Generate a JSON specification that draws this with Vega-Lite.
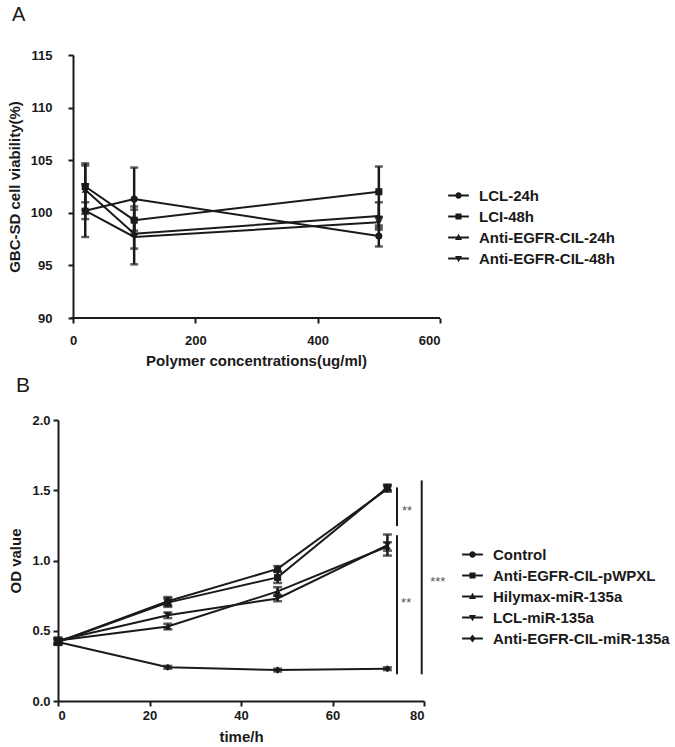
{
  "$schema": "https://vega.github.io/schema/vega-lite/v6.json",
  "background": "white",
  "padding": {"left": 7, "top": 5, "right": 0, "bottom": 0},
  "autosize": {"type": "pad"},
  "config": {
    "view": {"stroke": null},
    "font": "Liberation Sans",
    "axis": {
      "grid": false,
      "domainColor": "#1a1a1a",
      "domainWidth": 2,
      "tickColor": "#1a1a1a",
      "tickWidth": 2,
      "tickSize": 5,
      "labelFont": "Liberation Sans",
      "labelFontWeight": "bold",
      "labelFontSize": 13,
      "labelColor": "#1a1a1a",
      "titleFont": "Liberation Sans",
      "titleFontWeight": "bold",
      "titleFontSize": 15,
      "titleColor": "#1a1a1a"
    },
    "legend": {
      "labelFont": "Liberation Sans",
      "labelFontWeight": "bold",
      "labelFontSize": 15,
      "labelColor": "#1a1a1a",
      "labelLimit": 400,
      "symbolSize": 430,
      "symbolOpacity": 1,
      "labelOffset": 10,
      "padding": 0
    }
  },
  "datasets": {
    "viability": [
      {"group": "LCL-24h", "conc": 20, "mean": 100.2, "lo": 97.7, "hi": 102.7},
      {"group": "LCL-24h", "conc": 100, "mean": 101.3, "lo": 98.3, "hi": 104.3},
      {"group": "LCL-24h", "conc": 500, "mean": 97.8, "lo": 96.8, "hi": 98.8},
      {"group": "LCI-48h", "conc": 20, "mean": 102.5, "lo": 100.3, "hi": 104.7},
      {"group": "LCI-48h", "conc": 100, "mean": 99.3, "lo": 98.0, "hi": 100.6},
      {"group": "LCI-48h", "conc": 500, "mean": 102.0, "lo": 99.6, "hi": 104.4},
      {"group": "Anti-EGFR-CIL-24h", "conc": 20, "mean": 102.2, "lo": 99.9, "hi": 104.5},
      {"group": "Anti-EGFR-CIL-24h", "conc": 100, "mean": 98.0, "lo": 96.6, "hi": 99.4},
      {"group": "Anti-EGFR-CIL-24h", "conc": 500, "mean": 99.7, "lo": 98.4, "hi": 101.0},
      {"group": "Anti-EGFR-CIL-48h", "conc": 20, "mean": 100.2, "lo": 99.4, "hi": 101.0},
      {"group": "Anti-EGFR-CIL-48h", "conc": 100, "mean": 97.7, "lo": 95.1, "hi": 100.3},
      {"group": "Anti-EGFR-CIL-48h", "conc": 500, "mean": 99.1, "lo": 98.6, "hi": 99.6}
    ],
    "od": [
      {"group": "Control", "time": 0, "mean": 0.42, "lo": 0.40, "hi": 0.44},
      {"group": "Control", "time": 24, "mean": 0.71, "lo": 0.68, "hi": 0.74},
      {"group": "Control", "time": 48, "mean": 0.94, "lo": 0.92, "hi": 0.96},
      {"group": "Control", "time": 72, "mean": 1.51, "lo": 1.49, "hi": 1.53},
      {"group": "Anti-EGFR-CIL-pWPXL", "time": 0, "mean": 0.42, "lo": 0.40, "hi": 0.44},
      {"group": "Anti-EGFR-CIL-pWPXL", "time": 24, "mean": 0.70, "lo": 0.67, "hi": 0.73},
      {"group": "Anti-EGFR-CIL-pWPXL", "time": 48, "mean": 0.88, "lo": 0.84, "hi": 0.92},
      {"group": "Anti-EGFR-CIL-pWPXL", "time": 72, "mean": 1.52, "lo": 1.50, "hi": 1.54},
      {"group": "Hilymax-miR-135a", "time": 0, "mean": 0.43, "lo": 0.41, "hi": 0.45},
      {"group": "Hilymax-miR-135a", "time": 24, "mean": 0.53, "lo": 0.51, "hi": 0.55},
      {"group": "Hilymax-miR-135a", "time": 48, "mean": 0.78, "lo": 0.75, "hi": 0.81},
      {"group": "Hilymax-miR-135a", "time": 72, "mean": 1.10, "lo": 1.07, "hi": 1.13},
      {"group": "LCL-miR-135a", "time": 0, "mean": 0.43, "lo": 0.41, "hi": 0.45},
      {"group": "LCL-miR-135a", "time": 24, "mean": 0.61, "lo": 0.59, "hi": 0.63},
      {"group": "LCL-miR-135a", "time": 48, "mean": 0.73, "lo": 0.71, "hi": 0.75},
      {"group": "LCL-miR-135a", "time": 72, "mean": 1.11, "lo": 1.035, "hi": 1.185},
      {"group": "Anti-EGFR-CIL-miR-135a", "time": 0, "mean": 0.42, "lo": 0.41, "hi": 0.43},
      {"group": "Anti-EGFR-CIL-miR-135a", "time": 24, "mean": 0.24, "lo": 0.23, "hi": 0.25},
      {"group": "Anti-EGFR-CIL-miR-135a", "time": 48, "mean": 0.22, "lo": 0.21, "hi": 0.23},
      {"group": "Anti-EGFR-CIL-miR-135a", "time": 72, "mean": 0.23, "lo": 0.22, "hi": 0.24}
    ],
    "sigLines": [
      {"x": 74.1, "top": 1.52, "bottom": 1.245},
      {"x": 74.1, "top": 1.18, "bottom": 0.19},
      {"x": 79.5, "top": 1.57, "bottom": 0.19}
    ],
    "sigText": [
      {"x": 76.3, "y": 1.375, "label": "**"},
      {"x": 76.1, "y": 0.72, "label": "**"},
      {"x": 83.0, "y": 0.87, "label": "***"}
    ]
  },
  "spacing": 7,
  "resolve": {"scale": {"shape": "independent", "x": "independent", "y": "independent"}, "legend": {"shape": "independent"}},
  "vconcat": [
    {
      "width": 382,
      "height": 263,
      "title": {"text": "A", "anchor": "start", "frame": "group", "offset": 24, "dx": -46, "font": "Liberation Sans", "fontWeight": "normal", "fontSize": 20, "color": "#1a1a1a"},
      "data": {"name": "viability"},
      "encoding": {
        "x": {"field": "conc", "type": "quantitative", "scale": {"domain": [-24.52, 600], "nice": false, "zero": false}, "axis": {"values": [0, 200, 400, 600], "domain": false, "title": "Polymer concentrations(ug/ml)", "labelPadding": 11, "titlePadding": 6, "titleX": 198}},
        "y": {"field": "mean", "type": "quantitative", "scale": {"domain": [90, 115], "nice": false, "zero": false}, "axis": {"values": [90, 95, 100, 105, 110, 115], "offset": -15, "title": "GBC-SD cell viability(%)", "labelPadding": 16, "titlePadding": 8}}
      },
      "resolve": {"scale": {"shape": "independent"}, "legend": {"shape": "independent"}},
      "layer": [
        {"mark": {"type": "rule", "color": "#1a1a1a", "strokeWidth": 2}, "encoding": {"x": {"datum": -3}, "x2": {"datum": 600}, "y": {"datum": 90}}},
        {"mark": {"type": "line", "color": "#1a1a1a", "strokeWidth": 2}, "encoding": {"detail": {"field": "group"}}},
        {"mark": {"type": "errorbar", "color": "#1a1a1a", "thickness": 2.5, "ticks": {"size": 8, "thickness": 2.5, "color": "#1a1a1a"}},
         "encoding": {"y": {"field": "lo", "type": "quantitative"}, "y2": {"field": "hi"}, "detail": {"field": "group"}}},
        {"mark": {"type": "point", "filled": true, "color": "#1a1a1a", "opacity": 1, "size": 50},
         "encoding": {"shape": {"field": "group", "type": "nominal", "legend": null,
            "scale": {"domain": ["LCL-24h", "LCI-48h", "Anti-EGFR-CIL-24h", "Anti-EGFR-CIL-48h"], "range": ["circle", "square", "triangle-up", "triangle-down"]}}}},
        {"transform": [{"filter": "false"}],
         "mark": {"type": "point", "filled": true, "color": "#1a1a1a", "opacity": 1},
         "encoding": {"shape": {"field": "group", "type": "nominal",
            "scale": {"domain": ["LCL-24h", "LCI-48h", "Anti-EGFR-CIL-24h", "Anti-EGFR-CIL-48h"],
                      "range": ["M0,-1M0,1M-1,-0.086H1V0.086H-1ZM0.314,0A0.314,0.314 0 1,1 -0.314,0A0.314,0.314 0 1,1 0.314,0Z", "M0,-1M0,1M-1,-0.086H1V0.086H-1ZM-0.293,-0.293H0.293V0.293H-0.293Z", "M0,-1M0,1M-1,-0.086H1V0.086H-1ZM0,-0.36L0.335,0.24H-0.335Z", "M0,-1M0,1M-1,-0.086H1V0.086H-1ZM0,0.36L-0.335,-0.24H0.335Z"]},
            "legend": {"title": null, "orient": "none", "legendX": 390, "legendY": 130, "rowPadding": 0, "symbolFillColor": "#1a1a1a", "symbolStrokeWidth": 0, "symbolOpacity": 1}}}}
      ]
    },
    {
      "width": 366,
      "height": 281,
      "title": {"text": "B", "anchor": "start", "frame": "group", "offset": 18, "dx": -42, "font": "Liberation Sans", "fontWeight": "normal", "fontSize": 21, "color": "#1a1a1a"},
      "encoding": {
        "x": {"field": "time", "type": "quantitative", "scale": {"domain": [0, 80], "nice": false}, "axis": {"values": [0, 20, 40, 60, 80], "title": "time/h", "labelPadding": 3, "titlePadding": 7}},
        "y": {"field": "mean", "type": "quantitative", "scale": {"domain": [0, 2], "nice": false}, "axis": {"values": [0, 0.5, 1, 1.5, 2], "format": ".1f", "title": "OD value", "labelPadding": 3, "titlePadding": 8}}
      },
      "resolve": {"scale": {"shape": "independent"}, "legend": {"shape": "independent"}},
      "layer": [
        {"data": {"name": "od"}, "mark": {"type": "line", "color": "#1a1a1a", "strokeWidth": 2}, "encoding": {"detail": {"field": "group"}}},
        {"data": {"name": "od"}, "mark": {"type": "errorbar", "color": "#1a1a1a", "thickness": 2.5, "ticks": {"size": 9, "thickness": 2.5, "color": "#1a1a1a"}},
         "encoding": {"y": {"field": "lo", "type": "quantitative"}, "y2": {"field": "hi"}, "detail": {"field": "group"}}},
        {"data": {"name": "od"}, "mark": {"type": "point", "filled": true, "color": "#1a1a1a", "opacity": 1, "size": 50},
         "encoding": {"shape": {"field": "group", "type": "nominal", "legend": null,
            "scale": {"domain": ["Control", "Anti-EGFR-CIL-pWPXL", "Hilymax-miR-135a", "LCL-miR-135a", "Anti-EGFR-CIL-miR-135a"], "range": ["circle", "square", "triangle-up", "triangle-down", "diamond"]}}}},
        {"data": {"name": "od"}, "transform": [{"filter": "false"}],
         "mark": {"type": "point", "filled": true, "color": "#1a1a1a", "opacity": 1},
         "encoding": {"shape": {"field": "group", "type": "nominal",
            "scale": {"domain": ["Control", "Anti-EGFR-CIL-pWPXL", "Hilymax-miR-135a", "LCL-miR-135a", "Anti-EGFR-CIL-miR-135a"],
                      "range": ["M0,-1M0,1M-1,-0.086H1V0.086H-1ZM0.314,0A0.314,0.314 0 1,1 -0.314,0A0.314,0.314 0 1,1 0.314,0Z", "M0,-1M0,1M-1,-0.086H1V0.086H-1ZM-0.293,-0.293H0.293V0.293H-0.293Z", "M0,-1M0,1M-1,-0.086H1V0.086H-1ZM0,-0.36L0.335,0.24H-0.335Z", "M0,-1M0,1M-1,-0.086H1V0.086H-1ZM0,0.36L-0.335,-0.24H0.335Z", "M0,-1M0,1M-1,-0.086H1V0.086H-1ZM0,-0.377L0.304,0L0,0.377L-0.304,0Z"]},
            "legend": {"title": null, "orient": "none", "legendX": 404, "legendY": 124, "rowPadding": 0, "symbolFillColor": "#1a1a1a", "symbolStrokeWidth": 0, "symbolOpacity": 1}}}},
        {"data": {"name": "sigLines"}, "mark": {"type": "rule", "color": "#1a1a1a", "strokeWidth": 2},
         "encoding": {"x": {"field": "x", "type": "quantitative"}, "y": {"field": "top", "type": "quantitative"}, "y2": {"field": "bottom"}}},
        {"data": {"name": "sigText"}, "mark": {"type": "text", "color": "#555555", "fontSize": 13, "font": "Liberation Sans", "align": "center", "baseline": "middle", "dy": 3},
         "encoding": {"x": {"field": "x", "type": "quantitative"}, "y": {"field": "y", "type": "quantitative"}, "text": {"field": "label"}}}
      ]
    }
  ]
}
